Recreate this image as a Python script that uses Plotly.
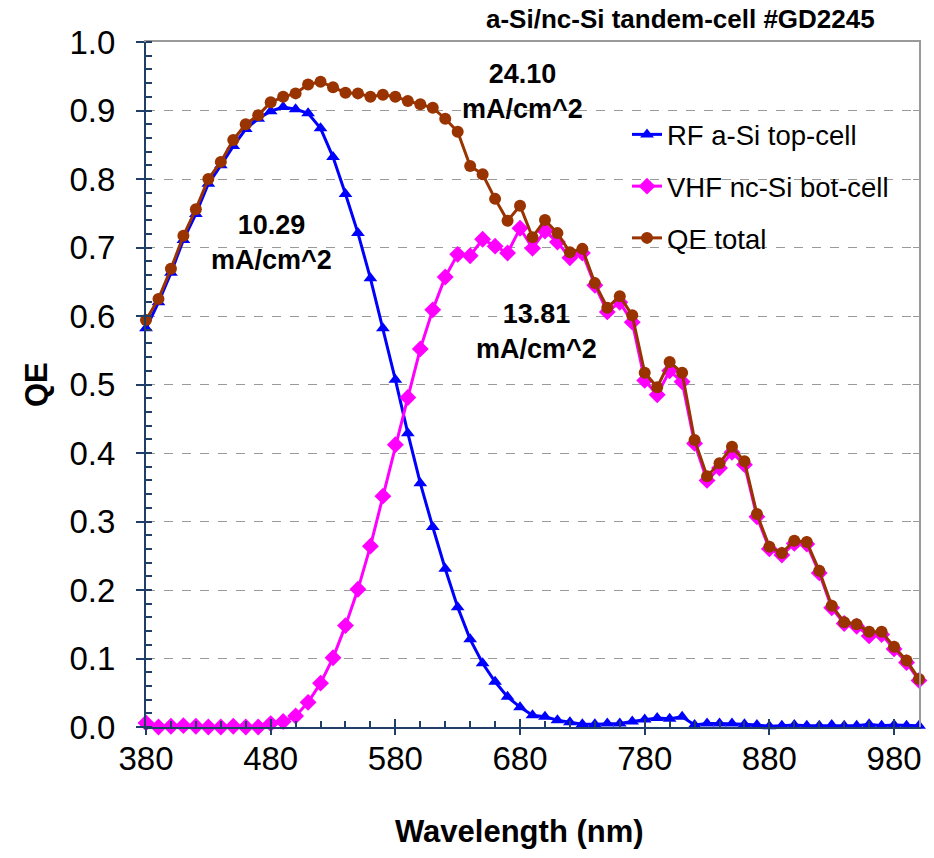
import plotly.graph_objects as go

wavelength = list(range(380, 1001, 10))

top_cell = [0.582, 0.620, 0.663, 0.711, 0.749, 0.793, 0.820, 0.848, 0.873, 0.888,
            0.899, 0.905, 0.902, 0.896, 0.874, 0.832, 0.778, 0.721, 0.655, 0.582,
            0.507, 0.429, 0.356, 0.292, 0.231, 0.175, 0.128, 0.093, 0.066, 0.044,
            0.029, 0.017, 0.015, 0.010, 0.007, 0.004, 0.004, 0.005, 0.005, 0.008,
            0.011, 0.013, 0.012, 0.015, 0.003, 0.005, 0.005, 0.005, 0.004, 0.003,
            0.001, 0.002, 0.003, 0.002, 0.002, 0.003, 0.002, 0.002, 0.004, 0.002,
            0.003, 0.002, 0.002]

bot_cell = [0.006, 0.000, 0.001, 0.002, 0.001, 0.000, 0.000, 0.001, 0.000, 0.000,
            0.005, 0.008, 0.016, 0.036, 0.064, 0.101, 0.148, 0.201, 0.264, 0.337,
            0.412, 0.481, 0.552, 0.609, 0.657, 0.690, 0.688, 0.712, 0.702, 0.692,
            0.728, 0.699, 0.724, 0.708, 0.685, 0.692, 0.645, 0.606, 0.620, 0.591,
            0.506, 0.485, 0.520, 0.504, 0.414, 0.360, 0.378, 0.401, 0.383, 0.307,
            0.260, 0.251, 0.268, 0.267, 0.225, 0.174, 0.151, 0.147, 0.133, 0.135,
            0.114, 0.094, 0.068]

qe_total = [0.594, 0.625, 0.669, 0.717, 0.756, 0.800, 0.825, 0.857, 0.880, 0.893,
            0.912, 0.920, 0.925, 0.938, 0.942, 0.934, 0.926, 0.925, 0.920, 0.923,
            0.920, 0.914, 0.909, 0.904, 0.888, 0.869, 0.819, 0.807, 0.771, 0.739,
            0.761, 0.715, 0.740, 0.721, 0.693, 0.698, 0.648, 0.612, 0.629, 0.601,
            0.517, 0.496, 0.533, 0.517, 0.419, 0.366, 0.385, 0.409, 0.388, 0.311,
            0.263, 0.254, 0.272, 0.270, 0.228, 0.177, 0.153, 0.150, 0.139, 0.139,
            0.117, 0.097, 0.070]

series_names = ["RF a-Si top-cell", "VHF nc-Si bot-cell", "QE total"]
x_ticks = [380, 480, 580, 680, 780, 880, 980]
y_ticks = [round(0.1 * i, 1) for i in range(11)]
y_ticklabels = [f"{v:.1f}" for v in y_ticks]
currents = ["10.29", "13.81", "24.10"]

FONT = "Liberation Sans, Arial, sans-serif"
NAVY = "#1F3F66"
GRAY = "#9A9A9A"

# plot box should land at x 146..919, y 42..727 (page body margin removed below)
L, R, T, B = 146, 934 - 919, 42, 858 - 727
PW, PH = 934 - L - R, 858 - T - B


def px_x(p):
    return (p - 146) / PW


def px_y(p):
    return 1 - (p - 42) / PH


fig = go.Figure()
styles = [
    dict(color="#0000FF", symbol="triangle-up", size=12),
    dict(color="#FF00FF", symbol="diamond", size=13),
    dict(color="#993300", symbol="circle", size=12),
]
for i, (name, ys, st) in enumerate(zip(series_names, [top_cell, bot_cell, qe_total], styles)):
    fig.add_trace(go.Scatter(
        x=wavelength, y=ys, name=name, mode="lines+markers",
        line=dict(color=st["color"], width=3),
        marker=dict(color=st["color"], symbol=st["symbol"], size=st["size"],
                    line=dict(width=0)),
        legendgroup=f"g{i}", cliponaxis=False,
    ))

fig.update_layout(
    width=934, height=858,
    margin=dict(l=L, r=R, t=T, b=B),
    paper_bgcolor="white", plot_bgcolor="white",
    font=dict(family=FONT, color="black"),
    showlegend=True,
    legend=dict(x=px_x(627), y=px_y(110), xanchor="left", yanchor="top",
                bgcolor="rgba(0,0,0,0)", borderwidth=0,
                font=dict(size=27.5, family=FONT),
                tracegroupgap=13, traceorder="grouped"),
    xaxis=dict(
        range=[380, 1000], tickmode="array", tickvals=x_ticks,
        ticktext=[str(v) for v in x_ticks],
        tickfont=dict(size=33, family=FONT), ticks="inside", ticklen=8,
        tickcolor=NAVY, tickwidth=1.5,
        minor=dict(dtick=20, tick0=380, ticks="inside", ticklen=6, tickcolor=NAVY,
                   showgrid=False),
        showline=True, linecolor=NAVY, linewidth=2, showgrid=False, zeroline=False,
        ticklabelstandoff=1,
    ),
    yaxis=dict(
        range=[0, 1.0], tickmode="array", tickvals=y_ticks, ticktext=y_ticklabels,
        tickfont=dict(size=33, family=FONT), ticks="outside", ticklen=8,
        tickcolor=NAVY, tickwidth=1.5,
        minor=dict(dtick=0.02, tick0=0, ticks="inside", ticklen=6, tickcolor=NAVY,
                   showgrid=False),
        showline=True, linecolor=NAVY, linewidth=2, zeroline=False,
        showgrid=True, gridcolor=GRAY, griddash="dash", gridwidth=1,
        ticklabelstandoff=14,
    ),
    yaxis2=dict(overlaying="y", side="right", range=[0, 1.0], tickvals=y_ticks,
                ticks="inside", ticklen=6, tickcolor=GRAY, showticklabels=False,
                showline=True, linecolor=GRAY, linewidth=2, showgrid=False,
                zeroline=False),
    xaxis2=dict(overlaying="x", side="top", range=[380, 1000], showticklabels=False,
                ticks="", showline=True, linecolor=GRAY, linewidth=2, showgrid=False,
                zeroline=False),
    # outer stubs of the crossing major x ticks
    xaxis3=dict(overlaying="x", side="bottom", range=[380, 1000], tickmode="array",
                tickvals=x_ticks, showticklabels=False, ticks="outside", ticklen=7,
                tickcolor=NAVY, tickwidth=1.5, showline=False, showgrid=False,
                zeroline=False),
)

# invisible helpers so the extra border / tick axes are drawn
fig.add_trace(go.Scatter(x=[None], y=[None], xaxis="x2", yaxis="y2",
                         showlegend=False, hoverinfo="skip"))
fig.add_trace(go.Scatter(x=[None], y=[None], xaxis="x3", yaxis="y",
                         showlegend=False, hoverinfo="skip"))

ann_font = dict(size=27, family=FONT, color="black")
fig.add_annotation(x=481, y=0.708, xref="x", yref="y",
                   text=f"<b>{currents[0]}<br>mA/cm^2</b>", showarrow=False,
                   font=ann_font, align="center")
fig.add_annotation(x=693, y=0.577, xref="x", yref="y",
                   text=f"<b>{currents[1]}<br>mA/cm^2</b>", showarrow=False,
                   font=ann_font, align="center")
fig.add_annotation(x=682, y=0.928, xref="x", yref="y",
                   text=f"<b>{currents[2]}<br>mA/cm^2</b>", showarrow=False,
                   font=ann_font, align="center")
fig.add_annotation(x=px_x(877), y=px_y(19), xref="paper", yref="paper",
                   text="<b>a-Si/nc-Si tandem-cell #GD2245</b>", showarrow=False,
                   font=dict(size=26, family=FONT), xanchor="right", yanchor="middle")
# axis titles
fig.add_annotation(x=px_x(519), y=px_y(831), xref="paper", yref="paper",
                   text="<b>Wavelength (nm)</b>", showarrow=False,
                   font=dict(size=31, family=FONT), xanchor="center", yanchor="middle")
fig.add_annotation(x=px_x(36), y=px_y(385), xref="paper", yref="paper",
                   text="<b>QE</b>", showarrow=False, textangle=-90,
                   font=dict(size=31, family=FONT), xanchor="center", yanchor="middle")

fig.write_html("out.html", config={"displayModeBar": False},
               post_script="document.body.style.margin='0';document.body.style.overflow='hidden';")
